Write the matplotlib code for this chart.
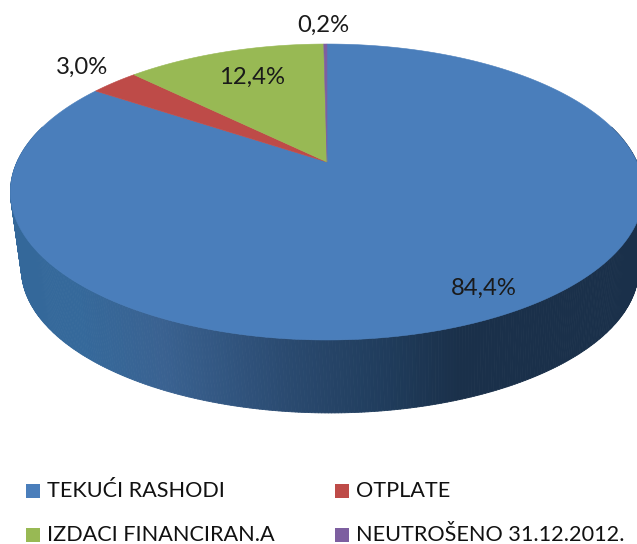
import numpy as np
import matplotlib
matplotlib.use("Agg")
import matplotlib.pyplot as plt
from matplotlib.collections import PolyCollection
from matplotlib.colors import LinearSegmentedColormap
from matplotlib.patches import Rectangle, Polygon

categories = ["TEKUĆI RASHODI", "OTPLATE", "IZDACI FINANCIRAN.A", "NEUTROŠENO 31.12.2012."]
values = [84.4, 3.0, 12.4, 0.2]
value_labels = ["84,4%", "3,0%", "12,4%", "0,2%"]
colors = ["#4A7EBB", "#BE4B48", "#98B954", "#7D5FA0"]

W, H = 637, 544
fig = plt.figure(figsize=(W / 100, H / 100), dpi=100)
ax = fig.add_axes([0, 0, 1, 1])
ax.set_xlim(0, W)
ax.set_ylim(H, 0)
ax.axis("off")

K = 0.2027


def project(t, cx=327.0, cy=162.0, a=310.0, b=141.9, s=1.0):
    d = 1 + K * np.sin(t)
    return cx + s * a * np.cos(t) / d, cy - s * b * np.sin(t) / d


# Wall
wall_stops = [(0.0, "#34689A"), (0.12, "#35699B"), (0.25, "#3A6291"), (0.45, "#2A4A70"),
              (0.62, "#1F3B5A"), (0.72, "#1A304A"), (1.0, "#1A304A")]
wall_cmap = LinearSegmentedColormap.from_list("wall", wall_stops)
ts = np.linspace(np.radians(165), np.radians(375), 420)
xt, yt = project(ts)
xb, yb = project(ts, cx=330.0, cy=239.4, s=0.975)
quads, qcols = [], []
for i in range(len(ts) - 1):
    quads.append([(xt[i], yt[i]), (xt[i + 1], yt[i + 1]), (xb[i + 1], yb[i + 1]), (xb[i], yb[i])])
    qcols.append(wall_cmap(np.clip(((xt[i] + xt[i + 1]) / 2) / W, 0, 1)))
ax.add_collection(PolyCollection(quads, facecolors=qcols, edgecolors=qcols, linewidths=0.6, zorder=1))

# Top face: slices run clockwise from twelve o'clock
angle = np.pi / 2
for val, col in zip(values, colors):
    sweep = 2 * np.pi * val / sum(values)
    t = np.linspace(angle, angle - sweep, max(int(val * 8), 8))
    x, y = project(t)
    ax.add_patch(Polygon(np.column_stack([np.r_[327.0, x], np.r_[162.0, y]]), closed=True,
                         facecolor=col, edgecolor=col, linewidth=0.4, zorder=2))
    angle -= sweep

FONT = "Lato"
label_pos = [(484, 288), (82, 67), (252, 77), (323, 25)]
for lab, (lx, ly) in zip(value_labels, label_pos):
    ax.text(lx, ly, lab, ha="center", va="center", fontsize=17.2, family=FONT, color="#1a1a1a", zorder=5)

# Legend
legend_pos = [(26, 491), (335, 491), (26, 535), (335, 535)]
for cat, col, (lx, ly) in zip(categories, colors, legend_pos):
    ax.add_patch(Rectangle((lx, ly - 7), 14, 14, facecolor=col, edgecolor="none", zorder=5))
    ax.text(lx + 21, ly, cat, ha="left", va="center", fontsize=15.6, family=FONT, color="#111111", zorder=5)

fig.savefig("out.png", dpi=100)
